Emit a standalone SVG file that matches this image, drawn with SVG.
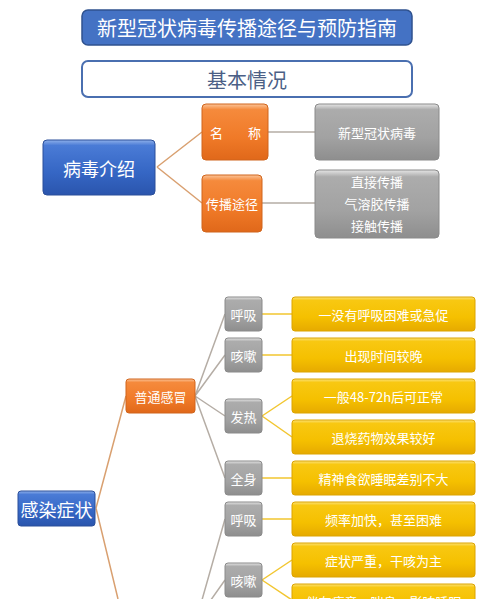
<svg xmlns="http://www.w3.org/2000/svg" width="500" height="599" viewBox="0 0 500 599">
<defs>
<linearGradient id="gBlue" x1="0" y1="0" x2="0" y2="1">
<stop offset="0" stop-color="#8fb0ea"/><stop offset="0.1" stop-color="#4a7bd6"/><stop offset="0.6" stop-color="#3566c4"/><stop offset="1" stop-color="#2a55ad"/>
</linearGradient>
<linearGradient id="gOrange" x1="0" y1="0" x2="0" y2="1">
<stop offset="0" stop-color="#fbc59a"/><stop offset="0.1" stop-color="#f58a3c"/><stop offset="0.6" stop-color="#f07a28"/><stop offset="1" stop-color="#e0681a"/>
</linearGradient>
<linearGradient id="gGray" x1="0" y1="0" x2="0" y2="1">
<stop offset="0" stop-color="#e6e6e6"/><stop offset="0.1" stop-color="#acacac"/><stop offset="0.6" stop-color="#a2a2a2"/><stop offset="1" stop-color="#8e8e8e"/>
</linearGradient>
<linearGradient id="gYellow" x1="0" y1="0" x2="0" y2="1">
<stop offset="0" stop-color="#fbe27a"/><stop offset="0.1" stop-color="#f8c812"/><stop offset="0.6" stop-color="#f5c000"/><stop offset="1" stop-color="#e6aa00"/>
</linearGradient>
<style>
text{font-family:"Noto Sans CJK SC","Liberation Sans",sans-serif;fill:#ffffff;text-anchor:middle;dominant-baseline:central}
.blue{fill:url(#gBlue);stroke:#2b4f9a;stroke-width:1}
.orange{fill:url(#gOrange);stroke:#d0651c;stroke-width:1}
.gray{fill:url(#gGray);stroke:#8a8a8a;stroke-width:1}
.yellow{fill:url(#gYellow);stroke:#dca400;stroke-width:1}
.t13{font-size:13px}
.t18{font-size:18px}
.c-or{stroke:#d9a070;stroke-width:1.5;fill:none}
.c-gr{stroke:#b5ada5;stroke-width:1.5;fill:none}
.c-ye{stroke:#f2c630;stroke-width:1.5;fill:none}
</style>
</defs>
<g id="connectors">
<path class="c-or" d="M157,167 L202,132 M157,167 L202,203"/>
<path class="c-gr" d="M268,132 L315,132 M262,203 L315,203"/>
<path class="c-or" d="M96,508 L126,396 M96,508 L118,599"/>
<path class="c-gr" d="M195,396 L225,314 M195,396 L225,355 M195,396 L225,416 M195,396 L225,478"/>
<path class="c-gr" d="M225,519 L196,621 M225,580 L196,621"/>
<path class="c-ye" d="M262,314 L292,314 M262,355 L292,355 M262,416 L292,396 M262,416 L292,437 M262,478 L292,478 M262,519 L292,519 M262,580 L292,560 M262,580 L292,600"/>
</g>
<g id="title">
<rect x="82" y="10" width="330" height="35" rx="6" fill="#4472c4" stroke="#2f528f" stroke-width="1.5"/>
<text x="247" y="27.5" style="font-size:20px">新型冠状病毒传播途径与预防指南</text>
</g>
<g id="basic">
<rect x="82" y="61" width="330" height="36" rx="6" fill="#ffffff" stroke="#4a6fb0" stroke-width="2"/>
<text x="247" y="79" style="font-size:20px;fill:#4b5f86">基本情况</text>
</g>
<g id="virus-intro">
<rect class="blue" x="43" y="140" width="112" height="55" rx="4"/>
<text class="t18" x="99" y="167.5">病毒介绍</text>
</g>
<g id="name">
<rect class="orange" x="202" y="104" width="66" height="56" rx="4"/>
<text class="t13" x="216.5" y="132">名</text>
<text class="t13" x="254.5" y="132">称</text>
</g>
<g id="route">
<rect class="orange" x="202" y="175" width="60" height="57" rx="4"/>
<text class="t13" x="232" y="203">传播途径</text>
</g>
<g id="name-val">
<rect class="gray" x="315" y="104" width="124" height="56" rx="4"/>
<text class="t13" x="377" y="132">新型冠状病毒</text>
</g>
<g id="route-val">
<rect class="gray" x="315" y="170" width="124" height="68" rx="4"/>
<text class="t13" x="377" y="181">直接传播</text>
<text class="t13" x="377" y="203">气溶胶传播</text>
<text class="t13" x="377" y="225">接触传播</text>
</g>
<g id="symptoms">
<rect class="blue" x="18" y="491" width="77" height="35" rx="3"/>
<text class="t18" x="56.5" y="508.5">感染症状</text>
</g>
<g id="cold">
<rect class="orange" x="126" y="379" width="69" height="34" rx="3"/>
<text class="t13" x="160.5" y="396">普通感冒</text>
</g>
<g id="c-breath">
<rect class="gray" x="225" y="297" width="37" height="34" rx="3"/>
<text class="t13" x="243.5" y="314">呼吸</text>
</g>
<g id="c-cough">
<rect class="gray" x="225" y="338" width="37" height="34" rx="3"/>
<text class="t13" x="243.5" y="355">咳嗽</text>
</g>
<g id="c-fever">
<rect class="gray" x="225" y="399" width="37" height="34" rx="3"/>
<text class="t13" x="243.5" y="416">发热</text>
</g>
<g id="c-body">
<rect class="gray" x="225" y="461" width="37" height="34" rx="3"/>
<text class="t13" x="243.5" y="478">全身</text>
</g>
<g id="n-breath">
<rect class="gray" x="225" y="502" width="37" height="34" rx="3"/>
<text class="t13" x="243.5" y="519">呼吸</text>
</g>
<g id="n-cough">
<rect class="gray" x="225" y="563" width="37" height="34" rx="3"/>
<text class="t13" x="243.5" y="580">咳嗽</text>
</g>
<g id="y1">
<rect class="yellow" x="292" y="297" width="183" height="34" rx="3"/>
<text class="t13" x="383.5" y="314">一没有呼吸困难或急促</text>
</g>
<g id="y2">
<rect class="yellow" x="292" y="338" width="183" height="34" rx="3"/>
<text class="t13" x="383.5" y="355">出现时间较晚</text>
</g>
<g id="y3">
<rect class="yellow" x="292" y="379" width="183" height="34" rx="3"/>
<text class="t13" x="383.5" y="396">一般48-72h后可正常</text>
</g>
<g id="y4">
<rect class="yellow" x="292" y="420" width="183" height="34" rx="3"/>
<text class="t13" x="383.5" y="437">退烧药物效果较好</text>
</g>
<g id="y5">
<rect class="yellow" x="292" y="461" width="183" height="34" rx="3"/>
<text class="t13" x="383.5" y="478">精神食欲睡眠差别不大</text>
</g>
<g id="y6">
<rect class="yellow" x="292" y="502" width="183" height="34" rx="3"/>
<text class="t13" x="383.5" y="519">频率加快，甚至困难</text>
</g>
<g id="y7">
<rect class="yellow" x="292" y="543" width="183" height="34" rx="3"/>
<text class="t13" x="383.5" y="560">症状严重，干咳为主</text>
</g>
<g id="y8">
<rect class="yellow" x="292" y="584" width="183" height="34" rx="3"/>
<text class="t13" x="383.5" y="601">伴有痰音，喘息，影响睡眠</text>
</g>
</svg>
